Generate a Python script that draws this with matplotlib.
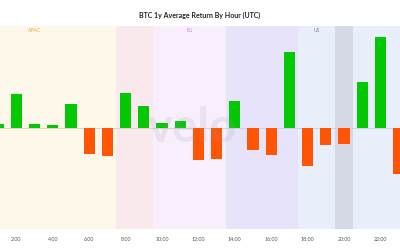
import matplotlib
matplotlib.use("Agg")
import matplotlib.pyplot as plt

hours = list(range(24))
hour_labels = [f"{h}:00" for h in hours]
# average return per hour (%), hour 0 is outside the visible window
returns = [0.0, 0.0037, 0.034, 0.0037, 0.0027, 0.024, -0.026, -0.0277,
           0.0353, 0.0223, 0.0053, 0.007, -0.032, -0.0307, 0.0273, -0.022,
           -0.0273, 0.076, -0.038, -0.0167, -0.0157, 0.046, 0.0913, -0.0463]

sessions = ["APAC", "", "EU", "", "US", "", ""]
session_start = [-0.5, 7.5, 9.5, 13.5, 17.5, 19.5, 20.5]
session_end = [7.5, 9.5, 13.5, 17.5, 19.5, 20.5, 23.5]
session_colors = ["#FEF8EA", "#F9E9EC", "#F8EEFC", "#E6E3FB", "#E9EEFB", "#D5D9E5", "#E9EEFB"]
label_pos = [3.0, None, 11.5, None, 18.5, None, None]
label_colors = ["#E0B040", None, "#C58AD8", None, "#7C8FB0", None, None]

fig = plt.figure(figsize=(4, 2.5), dpi=100)
ax = fig.add_axes([0, 0.084, 1, 0.812])
ax.set_xlim(1.1, 23.08)
ax.set_ylim(-0.101, 0.102)

for s, e, c in zip(session_start, session_end, session_colors):
    ax.axvspan(s, e, color=c, lw=0, zorder=0)
for name, xp, lc in zip(sessions, label_pos, label_colors):
    if name:
        ax.text(xp, 0.098, name, color=lc, fontsize=3.6, ha="center", va="center",
                family="Lato")

colors = ["#05C805" if v >= 0 else "#FF5505" for v in returns]
ax.bar(hours, returns, width=0.62, color=colors, zorder=3)
ax.axhline(0, color="#D0D0D0", lw=0.6, zorder=2)

ax.text(0.48, 0.5, "velo", transform=ax.transAxes, fontsize=34, color="#9A9AA8",
        alpha=0.15, ha="center", va="center", weight="bold", family="Lato", zorder=4)

for sp in ax.spines.values():
    sp.set_visible(False)
ax.set_yticks([])
ax.set_xticks(hours[2::2])
ax.set_xticklabels(hour_labels[2::2], fontsize=3.8, color="#555555", family="Lato")
ax.tick_params(axis="x", length=0, pad=6)

fig.text(0.5, 0.94, "BTC 1y Average Return By Hour (UTC)", ha="center", va="center",
         fontsize=5, color="#222222", family="Lato", weight="bold")

fig.savefig("out.png", dpi=100, facecolor="white")
